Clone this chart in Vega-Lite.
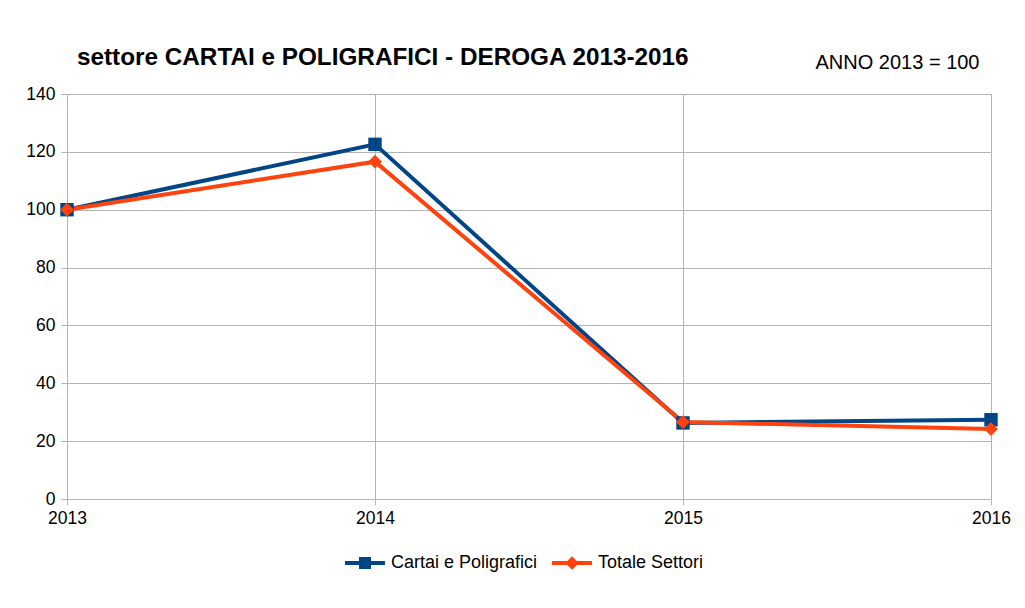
{
  "$schema": "https://vega.github.io/schema/vega-lite/v6.json",
  "autosize": "none",
  "width": 924,
  "height": 405,
  "padding": {"left": 67, "top": 94, "right": 34, "bottom": 109},
  "background": "white",
  "config": {
    "font": "Liberation Sans",
    "view": {"stroke": "#b3b3b3", "strokeWidth": 1},
    "axis": {
      "labelFont": "Liberation Sans",
      "labelFontSize": 17.5,
      "labelColor": "#000000",
      "gridColor": "#b3b3b3",
      "gridOpacity": 1,
      "domainColor": "#b3b3b3",
      "tickColor": "#b3b3b3",
      "tickSize": 6
    }
  },
  "title": {
    "text": "settore CARTAI e POLIGRAFICI - DEROGA 2013-2016",
    "anchor": "start",
    "frame": "group",
    "dx": 10,
    "font": "Liberation Sans",
    "fontSize": 24.3,
    "fontWeight": "bold",
    "color": "#000000",
    "offset": -18
  },
  "data": {
    "values": [
      {"anno": 2013, "serie": "Cartai e Poligrafici", "valore": 100},
      {"anno": 2014, "serie": "Cartai e Poligrafici", "valore": 122.6},
      {"anno": 2015, "serie": "Cartai e Poligrafici", "valore": 26.3},
      {"anno": 2016, "serie": "Cartai e Poligrafici", "valore": 27.4},
      {"anno": 2013, "serie": "Totale Settori", "valore": 100},
      {"anno": 2014, "serie": "Totale Settori", "valore": 116.6},
      {"anno": 2015, "serie": "Totale Settori", "valore": 26.6},
      {"anno": 2016, "serie": "Totale Settori", "valore": 24.2}
    ]
  },
  "encoding": {
    "x": {
      "field": "anno",
      "type": "quantitative",
      "scale": {"domain": [2013, 2016], "nice": false, "zero": false},
      "axis": {"values": [2013, 2014, 2015, 2016], "format": "d", "title": null, "labelFlush": false, "labelPadding": 4}
    },
    "y": {
      "field": "valore",
      "type": "quantitative",
      "scale": {"domain": [0, 140], "nice": false},
      "axis": {
        "values": [0, 20, 40, 60, 80, 100, 120, 140],
        "labelPadding": 6,
        "title": "ANNO 2013 = 100",
        "titleAngle": 0,
        "titleX": 748,
        "titleY": -32,
        "titleAlign": "left",
        "titleBaseline": "middle",
        "titleFont": "Liberation Sans",
        "titleFontSize": 20,
        "titleFontWeight": "normal",
        "titleColor": "#000000"
      }
    },
    "color": {
      "field": "serie",
      "type": "nominal",
      "scale": {"domain": ["Cartai e Poligrafici", "Totale Settori"], "range": ["#004586", "#ff420e"]},
      "legend": {
        "title": null,
        "orient": "none",
        "legendX": 278,
        "legendY": 449,
        "direction": "horizontal",
        "labelFont": "Liberation Sans",
        "labelFontSize": 18,
        "labelColor": "#000000",
        "labelOffset": 6,
        "symbolSize": 1600,
        "symbolOpacity": 1,
        "columnPadding": 14,
        "padding": 0,
        "symbolStrokeWidth": 0
      }
    }
  },
  "layer": [
    {
      "mark": {"type": "line", "strokeWidth": 4}
    },
    {
      "transform": [{"filter": "datum.serie === 'Cartai e Poligrafici'"}],
      "mark": {"type": "point", "filled": true, "opacity": 1, "shape": "square", "size": 180}
    },
    {
      "transform": [{"filter": "datum.serie === 'Totale Settori'"}],
      "mark": {"type": "point", "filled": true, "opacity": 1, "shape": "diamond", "size": 190}
    },
    {
      "transform": [{"filter": "datum.anno > 3000"}],
      "mark": {"type": "point", "filled": true, "opacity": 1},
      "encoding": {
        "shape": {
          "field": "serie",
          "type": "nominal",
          "scale": {
            "domain": ["Cartai e Poligrafici", "Totale Settori"],
            "range": ["M-1,-0.1H1V0.1H-1Z M-0.3,-0.3H0.3V0.3H-0.3Z", "M-1,-0.1H1V0.1H-1Z M0,-0.34L0.34,0L0,0.34L-0.34,0Z"]
          },
          "legend": {"title": null}
        }
      }
    }
  ]
}
